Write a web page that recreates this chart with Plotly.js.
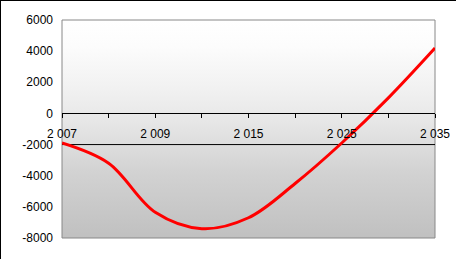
<!DOCTYPE html>
<html>
<head>
<meta charset="utf-8">
<script src="https://cdn.plot.ly/plotly-3.0.1.min.js"></script>
<style>
  html, body { margin: 0; padding: 0; background: #fff; }
  #chart { position: absolute; left: 0; top: 0; width: 456px; height: 259px; }
  #frame { position: absolute; left: 0; top: 0; width: 456px; height: 259px; box-sizing: border-box;
           border-top: 1px solid #000; border-left: 1px solid #000; pointer-events: none; z-index: 10; }
</style>
</head>
<body>
<div id="chart"></div>
<div id="frame"></div>
<script>
const categories = ["2007", "2008", "2009", "2010", "2015", "2020", "2025", "2030", "2035"];
const xTickText = ["2 007", "", "2 009", "", "2 015", "", "2 025", "", "2 035"];
const balance = [-1900, -3200, -6350, -7400, -6700, -4500, -1900, 1000, 4200];
const referenceLine = [-2000, -2000, -2000, -2000, -2000, -2000, -2000, -2000, -2000];
const yTickVals = [-8000, -6000, -4000, -2000, 0, 2000, 4000, 6000];
const yTickText = ["-8000", "-6000", "-4000", "-2000", "0", "2000", "4000", "6000"];
const yRange = [-8000, 6000];

const gradSvg = '<svg xmlns="http://www.w3.org/2000/svg" width="100" height="100" preserveAspectRatio="none">' +
  '<defs><linearGradient id="g" x1="0" y1="0" x2="0" y2="1">' +
  '<stop offset="0" stop-color="#ffffff"/>' +
  '<stop offset="0.12" stop-color="#fcfcfc"/>' +
  '<stop offset="0.3" stop-color="#f2f2f2"/>' +
  '<stop offset="0.45" stop-color="#e8e8e8"/>' +
  '<stop offset="0.7" stop-color="#d2d2d2"/>' +
  '<stop offset="1" stop-color="#c0c0c0"/>' +
  '</linearGradient></defs><rect width="100" height="100" fill="url(#g)"/></svg>';
const gradUri = 'data:image/svg+xml;base64,' + btoa(gradSvg);

const zeroPos = (0 - yRange[0]) / (yRange[1] - yRange[0]);

const traces = [
  {
    x: categories, y: referenceLine, type: 'scatter', mode: 'lines',
    line: { color: '#000000', width: 1 }, hoverinfo: 'skip', showlegend: false
  },
  {
    x: categories, y: balance, type: 'scatter', mode: 'lines',
    line: { color: '#ff0000', width: 3, shape: 'spline', smoothing: 1 },
    showlegend: false
  }
];

const layout = {
  width: 456, height: 259,
  margin: { l: 62, r: 21, t: 20, b: 21 },
  paper_bgcolor: '#ffffff',
  plot_bgcolor: 'rgba(0,0,0,0)',
  font: { family: 'Liberation Sans, Arial, sans-serif', size: 12, color: '#000' },
  xaxis: {
    type: 'category', range: [0, 8],
    anchor: 'free', position: zeroPos,
    tickmode: 'array', tickvals: categories, ticktext: xTickText,
    ticks: 'outside', ticklen: 4, tickcolor: '#000', tickwidth: 1,
    ticklabelstandoff: 5,
    showline: true, linecolor: '#000', linewidth: 1,
    showgrid: false, zeroline: false,
    tickfont: { size: 12, color: '#000' }
  },
  yaxis: {
    range: yRange,
    tickmode: 'array', tickvals: yTickVals, ticktext: yTickText,
    ticks: '', ticklabelstandoff: 8,
    showline: false, showgrid: false, zeroline: false,
    tickfont: { size: 12, color: '#000' }
  },
  images: [{
    source: gradUri, xref: 'paper', yref: 'paper', x: 0, y: 1, sizex: 1, sizey: 1,
    xanchor: 'left', yanchor: 'top', sizing: 'stretch', layer: 'below'
  }],
  shapes: [{
    type: 'rect', xref: 'paper', yref: 'paper', x0: 0, x1: 1, y0: 0, y1: 1,
    line: { color: '#888888', width: 1 }, layer: 'below'
  }]
};

Plotly.newPlot('chart', traces, layout, { staticPlot: true, displayModeBar: false });
</script>
</body>
</html>
